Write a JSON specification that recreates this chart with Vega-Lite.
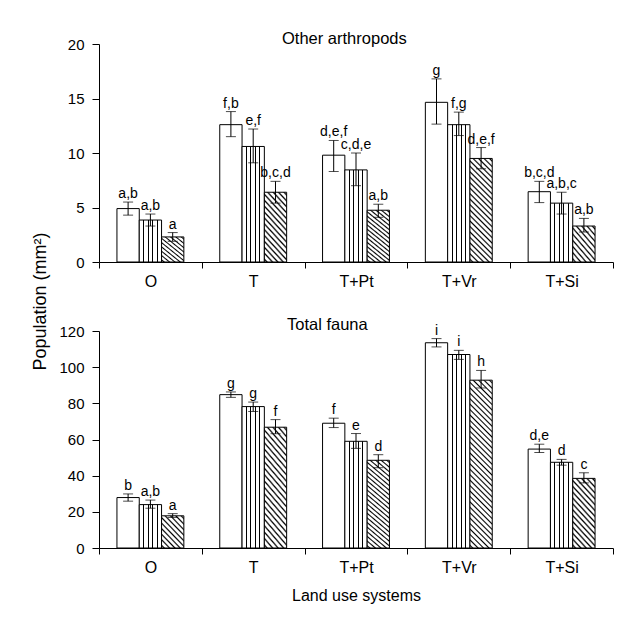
{
"$schema": "https://vega.github.io/schema/vega-lite/v6.json",
"background": "white",
"padding": {"left": 31, "top": 30, "right": 5, "bottom": 5},
"bounds": "flush",
"spacing": 69,
"config": {
 "font": "Liberation Sans",
 "view": {"stroke": null},
 "axis": {"domainColor": "black", "tickColor": "black", "labelColor": "black", "titleColor": "black", "labelFont": "Liberation Sans", "titleFont": "Liberation Sans", "titleFontWeight": "normal", "grid": false, "domainWidth": 1, "tickWidth": 1},
 "axisY": {"labelFontSize": 15, "tickSize": 7, "labelPadding": 8, "labelOverlap": false},
 "title": {"font": "Liberation Sans", "fontWeight": "normal", "color": "black"}
},
"datasets": {
 "arth": [
  {"system": "O", "trt": "A", "value": 4.9, "lo": 4.3, "hi": 5.5, "label": "a,b"},
  {"system": "O", "trt": "B", "value": 3.85, "lo": 3.3, "hi": 4.4, "label": "a,b"},
  {"system": "O", "trt": "C", "value": 2.3, "lo": 1.9, "hi": 2.7, "label": "a"},
  {"system": "T", "trt": "A", "value": 12.6, "lo": 11.5, "hi": 13.8, "label": "f,b"},
  {"system": "T", "trt": "B", "value": 10.6, "lo": 9.1, "hi": 12.2, "label": "e,f"},
  {"system": "T", "trt": "C", "value": 6.4, "lo": 5.4, "hi": 7.4, "label": "b,c,d"},
  {"system": "T+Pt", "trt": "A", "value": 9.8, "lo": 8.3, "hi": 11.15, "label": "d,e,f"},
  {"system": "T+Pt", "trt": "B", "value": 8.45, "lo": 7.0, "hi": 10.0, "label": "c,d,e"},
  {"system": "T+Pt", "trt": "C", "value": 4.75, "lo": 4.1, "hi": 5.3, "label": "a,b"},
  {"system": "T+Vr", "trt": "A", "value": 14.65, "lo": 12.65, "hi": 16.8, "label": "g"},
  {"system": "T+Vr", "trt": "B", "value": 12.6, "lo": 11.6, "hi": 13.75, "label": "f,g"},
  {"system": "T+Vr", "trt": "C", "value": 9.5, "lo": 8.55, "hi": 10.5, "label": "d,e,f"},
  {"system": "T+Si", "trt": "A", "value": 6.45, "lo": 5.45, "hi": 7.4, "label": "b,c,d"},
  {"system": "T+Si", "trt": "B", "value": 5.4, "lo": 4.4, "hi": 6.4, "label": "a,b,c"},
  {"system": "T+Si", "trt": "C", "value": 3.3, "lo": 2.75, "hi": 4.0, "label": "a,b"}
 ],
 "fauna": [
  {"system": "O", "trt": "A", "value": 27.9, "lo": 25.9, "hi": 29.9, "label": "b"},
  {"system": "O", "trt": "B", "value": 24.0, "lo": 22.0, "hi": 26.5, "label": "a,b"},
  {"system": "O", "trt": "C", "value": 17.8, "lo": 16.9, "hi": 19.0, "label": "a"},
  {"system": "T", "trt": "A", "value": 84.8, "lo": 83.3, "hi": 86.3, "label": "g"},
  {"system": "T", "trt": "B", "value": 78.2, "lo": 75.5, "hi": 80.7, "label": "g"},
  {"system": "T", "trt": "C", "value": 66.8, "lo": 63.2, "hi": 71.0, "label": "f"},
  {"system": "T+Pt", "trt": "A", "value": 69.0, "lo": 66.6, "hi": 71.8, "label": "f"},
  {"system": "T+Pt", "trt": "B", "value": 59.0, "lo": 55.1, "hi": 63.3, "label": "e"},
  {"system": "T+Pt", "trt": "C", "value": 48.5, "lo": 44.4, "hi": 51.6, "label": "d"},
  {"system": "T+Vr", "trt": "A", "value": 113.5, "lo": 111.2, "hi": 115.8, "label": "i"},
  {"system": "T+Vr", "trt": "B", "value": 107.0, "lo": 104.3, "hi": 109.3, "label": "i"},
  {"system": "T+Vr", "trt": "C", "value": 92.8, "lo": 88.5, "hi": 98.2, "label": "h"},
  {"system": "T+Si", "trt": "A", "value": 54.7, "lo": 52.8, "hi": 57.4, "label": "d,e"},
  {"system": "T+Si", "trt": "B", "value": 47.4, "lo": 45.8, "hi": 49.0, "label": "d"},
  {"system": "T+Si", "trt": "C", "value": 38.5, "lo": 36.0, "hi": 41.6, "label": "c"}
 ]
},
"vconcat": [
 {
  "width": 514, "height": 218,
  "title": {"text": "Other arthropods", "anchor": "start", "frame": "group", "dx": 183, "offset": -23, "fontSize": 16.5, "baseline": "alphabetic"},
  "data": {"name": "arth"},
  "encoding": {
   "x": {"field": "system", "type": "nominal", "sort": ["O", "T", "T+Pt", "T+Vr", "T+Si"], "scale": {"paddingInner": 0, "paddingOuter": 0}, "axis": {"title": null, "labelAngle": 0, "tickBand": "extent", "labelFontSize": 16, "labelPadding": 5, "tickSize": 6}},
   "xOffset": {"field": "trt", "type": "nominal", "sort": ["A", "B", "C"], "scale": {"paddingInner": 0, "paddingOuter": 0.805}}
  },
  "layer": [
   {"transform": [{"filter": "datum.trt == 'A'"}], "mark": {"type": "bar", "fill": "white", "stroke": "black", "strokeWidth": 1},
    "encoding": {"y": {"field": "value", "type": "quantitative", "scale": {"domain": [0, 20], "nice": false}, "axis": {"title": "Population (mm²)", "titleFontSize": 18, "titleX": -54, "titleY": 257, "titleAngle": -90, "titleBaseline": "alphabetic", "titleAlign": "center", "values": [0, 5, 10, 15, 20]}}}},
   {"transform": [{"filter": "datum.trt == 'B'"}], "mark": {"type": "bar", "stroke": "black", "strokeWidth": 1, "fill": {"gradient": "linear", "x1": 0, "y1": 0, "x2": 1, "y2": 0, "stops": [{"offset": 0, "color": "white"}, {"offset": 0.178, "color": "white"}, {"offset": 0.178, "color": "black"}, {"offset": 0.222, "color": "black"}, {"offset": 0.222, "color": "white"}, {"offset": 0.378, "color": "white"}, {"offset": 0.378, "color": "black"}, {"offset": 0.422, "color": "black"}, {"offset": 0.422, "color": "white"}, {"offset": 0.578, "color": "white"}, {"offset": 0.578, "color": "black"}, {"offset": 0.622, "color": "black"}, {"offset": 0.622, "color": "white"}, {"offset": 0.778, "color": "white"}, {"offset": 0.778, "color": "black"}, {"offset": 0.822, "color": "black"}, {"offset": 0.822, "color": "white"}, {"offset": 1, "color": "white"}]}},
    "encoding": {"y": {"field": "value", "type": "quantitative", "axis": {"values": [0, 5, 10, 15, 20]}}}},
   {"transform": [{"filter": "datum.trt == 'C' && (datum.system == 'O' || datum.system == 'T+Si')"}], "mark": {"type": "bar", "stroke": "black", "strokeWidth": 1, "fill": {"gradient": "linear", "x1": 0, "y1": 1, "x2": 0.815, "y2": -0.133, "stops": [
     {"offset": 0.02, "color": "white"}, {"offset": 0.05, "color": "black"}, {"offset": 0.08, "color": "white"},
     {"offset": 0.12, "color": "white"}, {"offset": 0.15, "color": "black"}, {"offset": 0.18, "color": "white"},
     {"offset": 0.22, "color": "white"}, {"offset": 0.25, "color": "black"}, {"offset": 0.28, "color": "white"},
     {"offset": 0.32, "color": "white"}, {"offset": 0.35, "color": "black"}, {"offset": 0.38, "color": "white"},
     {"offset": 0.42, "color": "white"}, {"offset": 0.45, "color": "black"}, {"offset": 0.48, "color": "white"},
     {"offset": 0.52, "color": "white"}, {"offset": 0.55, "color": "black"}, {"offset": 0.58, "color": "white"},
     {"offset": 0.62, "color": "white"}, {"offset": 0.65, "color": "black"}, {"offset": 0.68, "color": "white"},
     {"offset": 0.72, "color": "white"}, {"offset": 0.75, "color": "black"}, {"offset": 0.78, "color": "white"},
     {"offset": 0.82, "color": "white"}, {"offset": 0.85, "color": "black"}, {"offset": 0.88, "color": "white"},
     {"offset": 0.92, "color": "white"}, {"offset": 0.95, "color": "black"}, {"offset": 0.98, "color": "white"}]}},
    "encoding": {"y": {"field": "value", "type": "quantitative", "axis": {"values": [0, 5, 10, 15, 20]}}}},
   {"transform": [{"filter": "datum.trt == 'C' && (datum.system == 'T' || datum.system == 'T+Pt')"}], "mark": {"type": "bar", "stroke": "black", "strokeWidth": 1, "fill": {"gradient": "linear", "x1": 0, "y1": 1, "x2": 0.419, "y2": -0.203, "stops": [
     {"offset": 0.011, "color": "white"}, {"offset": 0.031, "color": "black"}, {"offset": 0.051, "color": "white"},
     {"offset": 0.074, "color": "white"}, {"offset": 0.094, "color": "black"}, {"offset": 0.114, "color": "white"},
     {"offset": 0.136, "color": "white"}, {"offset": 0.156, "color": "black"}, {"offset": 0.176, "color": "white"},
     {"offset": 0.199, "color": "white"}, {"offset": 0.219, "color": "black"}, {"offset": 0.239, "color": "white"},
     {"offset": 0.261, "color": "white"}, {"offset": 0.281, "color": "black"}, {"offset": 0.301, "color": "white"},
     {"offset": 0.324, "color": "white"}, {"offset": 0.344, "color": "black"}, {"offset": 0.364, "color": "white"},
     {"offset": 0.386, "color": "white"}, {"offset": 0.406, "color": "black"}, {"offset": 0.426, "color": "white"},
     {"offset": 0.449, "color": "white"}, {"offset": 0.469, "color": "black"}, {"offset": 0.489, "color": "white"},
     {"offset": 0.511, "color": "white"}, {"offset": 0.531, "color": "black"}, {"offset": 0.551, "color": "white"},
     {"offset": 0.574, "color": "white"}, {"offset": 0.594, "color": "black"}, {"offset": 0.614, "color": "white"},
     {"offset": 0.636, "color": "white"}, {"offset": 0.656, "color": "black"}, {"offset": 0.676, "color": "white"},
     {"offset": 0.699, "color": "white"}, {"offset": 0.719, "color": "black"}, {"offset": 0.739, "color": "white"},
     {"offset": 0.761, "color": "white"}, {"offset": 0.781, "color": "black"}, {"offset": 0.801, "color": "white"},
     {"offset": 0.824, "color": "white"}, {"offset": 0.844, "color": "black"}, {"offset": 0.864, "color": "white"},
     {"offset": 0.886, "color": "white"}, {"offset": 0.906, "color": "black"}, {"offset": 0.926, "color": "white"},
     {"offset": 0.949, "color": "white"}, {"offset": 0.969, "color": "black"}, {"offset": 0.989, "color": "white"}]}},
    "encoding": {"y": {"field": "value", "type": "quantitative", "axis": {"values": [0, 5, 10, 15, 20]}}}},
   {"transform": [{"filter": "datum.trt == 'C' && datum.system == 'T+Vr'"}], "mark": {"type": "bar", "stroke": "black", "strokeWidth": 1, "fill": {"gradient": "linear", "x1": 0, "y1": 1, "x2": 0.249, "y2": -0.161, "stops": [
     {"offset": 0.0087, "color": "white"}, {"offset": 0.0217, "color": "black"}, {"offset": 0.0347, "color": "white"},
     {"offset": 0.0522, "color": "white"}, {"offset": 0.0652, "color": "black"}, {"offset": 0.0782, "color": "white"},
     {"offset": 0.0957, "color": "white"}, {"offset": 0.1087, "color": "black"}, {"offset": 0.1217, "color": "white"},
     {"offset": 0.1392, "color": "white"}, {"offset": 0.1522, "color": "black"}, {"offset": 0.1652, "color": "white"},
     {"offset": 0.1827, "color": "white"}, {"offset": 0.1957, "color": "black"}, {"offset": 0.2087, "color": "white"},
     {"offset": 0.2261, "color": "white"}, {"offset": 0.2391, "color": "black"}, {"offset": 0.2521, "color": "white"},
     {"offset": 0.2696, "color": "white"}, {"offset": 0.2826, "color": "black"}, {"offset": 0.2956, "color": "white"},
     {"offset": 0.3131, "color": "white"}, {"offset": 0.3261, "color": "black"}, {"offset": 0.3391, "color": "white"},
     {"offset": 0.3566, "color": "white"}, {"offset": 0.3696, "color": "black"}, {"offset": 0.3826, "color": "white"},
     {"offset": 0.4, "color": "white"}, {"offset": 0.413, "color": "black"}, {"offset": 0.426, "color": "white"},
     {"offset": 0.4435, "color": "white"}, {"offset": 0.4565, "color": "black"}, {"offset": 0.4695, "color": "white"},
     {"offset": 0.487, "color": "white"}, {"offset": 0.5, "color": "black"}, {"offset": 0.513, "color": "white"},
     {"offset": 0.5305, "color": "white"}, {"offset": 0.5435, "color": "black"}, {"offset": 0.5565, "color": "white"},
     {"offset": 0.574, "color": "white"}, {"offset": 0.587, "color": "black"}, {"offset": 0.6, "color": "white"},
     {"offset": 0.6174, "color": "white"}, {"offset": 0.6304, "color": "black"}, {"offset": 0.6434, "color": "white"},
     {"offset": 0.6609, "color": "white"}, {"offset": 0.6739, "color": "black"}, {"offset": 0.6869, "color": "white"},
     {"offset": 0.7044, "color": "white"}, {"offset": 0.7174, "color": "black"}, {"offset": 0.7304, "color": "white"},
     {"offset": 0.7479, "color": "white"}, {"offset": 0.7609, "color": "black"}, {"offset": 0.7739, "color": "white"},
     {"offset": 0.7913, "color": "white"}, {"offset": 0.8043, "color": "black"}, {"offset": 0.8173, "color": "white"},
     {"offset": 0.8348, "color": "white"}, {"offset": 0.8478, "color": "black"}, {"offset": 0.8608, "color": "white"},
     {"offset": 0.8783, "color": "white"}, {"offset": 0.8913, "color": "black"}, {"offset": 0.9043, "color": "white"},
     {"offset": 0.9218, "color": "white"}, {"offset": 0.9348, "color": "black"}, {"offset": 0.9478, "color": "white"},
     {"offset": 0.9653, "color": "white"}, {"offset": 0.9783, "color": "black"}, {"offset": 0.9913, "color": "white"}]}},
    "encoding": {"y": {"field": "value", "type": "quantitative", "axis": {"values": [0, 5, 10, 15, 20]}}}},
   {"mark": {"type": "rule", "color": "black", "strokeWidth": 1}, "encoding": {"y": {"field": "lo", "type": "quantitative", "axis": {"values": [0, 5, 10, 15, 20]}}, "y2": {"field": "hi"}}},
   {"mark": {"type": "tick", "color": "black", "thickness": 1, "size": 10}, "encoding": {"y": {"field": "hi", "type": "quantitative", "axis": {"values": [0, 5, 10, 15, 20]}}}},
   {"mark": {"type": "tick", "color": "black", "thickness": 1, "size": 10}, "encoding": {"y": {"field": "lo", "type": "quantitative", "axis": {"values": [0, 5, 10, 15, 20]}}}},
   {"mark": {"type": "text", "baseline": "alphabetic", "dy": -4, "fontSize": 14, "font": "Liberation Sans", "color": "black"}, "encoding": {"y": {"field": "hi", "type": "quantitative", "axis": {"values": [0, 5, 10, 15, 20]}}, "text": {"field": "label"}}}
  ]
 },
 {
  "width": 514, "height": 217,
  "title": {"text": "Total fauna", "anchor": "start", "frame": "group", "dx": 188, "offset": -23, "fontSize": 16.5, "baseline": "alphabetic"},
  "data": {"name": "fauna"},
  "encoding": {
   "x": {"field": "system", "type": "nominal", "sort": ["O", "T", "T+Pt", "T+Vr", "T+Si"], "scale": {"paddingInner": 0, "paddingOuter": 0}, "axis": {"title": "Land use systems", "titleFontSize": 16, "titlePadding": 12, "labelAngle": 0, "tickBand": "extent", "labelFontSize": 16, "labelPadding": 5, "tickSize": 6}},
   "xOffset": {"field": "trt", "type": "nominal", "sort": ["A", "B", "C"], "scale": {"paddingInner": 0, "paddingOuter": 0.805}}
  },
  "layer": [
   {"transform": [{"filter": "datum.trt == 'A'"}], "mark": {"type": "bar", "fill": "white", "stroke": "black", "strokeWidth": 1},
    "encoding": {"y": {"field": "value", "type": "quantitative", "scale": {"domain": [0, 120], "nice": false}, "axis": {"title": null, "values": [0, 20, 40, 60, 80, 100, 120]}}}},
   {"transform": [{"filter": "datum.trt == 'B'"}], "mark": {"type": "bar", "stroke": "black", "strokeWidth": 1, "fill": {"gradient": "linear", "x1": 0, "y1": 0, "x2": 1, "y2": 0, "stops": [{"offset": 0, "color": "white"}, {"offset": 0.178, "color": "white"}, {"offset": 0.178, "color": "black"}, {"offset": 0.222, "color": "black"}, {"offset": 0.222, "color": "white"}, {"offset": 0.378, "color": "white"}, {"offset": 0.378, "color": "black"}, {"offset": 0.422, "color": "black"}, {"offset": 0.422, "color": "white"}, {"offset": 0.578, "color": "white"}, {"offset": 0.578, "color": "black"}, {"offset": 0.622, "color": "black"}, {"offset": 0.622, "color": "white"}, {"offset": 0.778, "color": "white"}, {"offset": 0.778, "color": "black"}, {"offset": 0.822, "color": "black"}, {"offset": 0.822, "color": "white"}, {"offset": 1, "color": "white"}]}},
    "encoding": {"y": {"field": "value", "type": "quantitative", "axis": {"values": [0, 20, 40, 60, 80, 100, 120]}}}},
   {"transform": [{"filter": "datum.trt == 'C' && datum.system == 'O'"}], "mark": {"type": "bar", "stroke": "black", "strokeWidth": 1, "fill": {"gradient": "linear", "x1": 0, "y1": 1, "x2": 0.815, "y2": -0.133, "stops": [
     {"offset": 0.02, "color": "white"}, {"offset": 0.05, "color": "black"}, {"offset": 0.08, "color": "white"},
     {"offset": 0.12, "color": "white"}, {"offset": 0.15, "color": "black"}, {"offset": 0.18, "color": "white"},
     {"offset": 0.22, "color": "white"}, {"offset": 0.25, "color": "black"}, {"offset": 0.28, "color": "white"},
     {"offset": 0.32, "color": "white"}, {"offset": 0.35, "color": "black"}, {"offset": 0.38, "color": "white"},
     {"offset": 0.42, "color": "white"}, {"offset": 0.45, "color": "black"}, {"offset": 0.48, "color": "white"},
     {"offset": 0.52, "color": "white"}, {"offset": 0.55, "color": "black"}, {"offset": 0.58, "color": "white"},
     {"offset": 0.62, "color": "white"}, {"offset": 0.65, "color": "black"}, {"offset": 0.68, "color": "white"},
     {"offset": 0.72, "color": "white"}, {"offset": 0.75, "color": "black"}, {"offset": 0.78, "color": "white"},
     {"offset": 0.82, "color": "white"}, {"offset": 0.85, "color": "black"}, {"offset": 0.88, "color": "white"},
     {"offset": 0.92, "color": "white"}, {"offset": 0.95, "color": "black"}, {"offset": 0.98, "color": "white"}]}},
    "encoding": {"y": {"field": "value", "type": "quantitative", "axis": {"values": [0, 20, 40, 60, 80, 100, 120]}}}},
   {"transform": [{"filter": "datum.trt == 'C' && datum.system == 'T+Si'"}], "mark": {"type": "bar", "stroke": "black", "strokeWidth": 1, "fill": {"gradient": "linear", "x1": 0, "y1": 1, "x2": 0.419, "y2": -0.203, "stops": [
     {"offset": 0.011, "color": "white"}, {"offset": 0.031, "color": "black"}, {"offset": 0.051, "color": "white"},
     {"offset": 0.074, "color": "white"}, {"offset": 0.094, "color": "black"}, {"offset": 0.114, "color": "white"},
     {"offset": 0.136, "color": "white"}, {"offset": 0.156, "color": "black"}, {"offset": 0.176, "color": "white"},
     {"offset": 0.199, "color": "white"}, {"offset": 0.219, "color": "black"}, {"offset": 0.239, "color": "white"},
     {"offset": 0.261, "color": "white"}, {"offset": 0.281, "color": "black"}, {"offset": 0.301, "color": "white"},
     {"offset": 0.324, "color": "white"}, {"offset": 0.344, "color": "black"}, {"offset": 0.364, "color": "white"},
     {"offset": 0.386, "color": "white"}, {"offset": 0.406, "color": "black"}, {"offset": 0.426, "color": "white"},
     {"offset": 0.449, "color": "white"}, {"offset": 0.469, "color": "black"}, {"offset": 0.489, "color": "white"},
     {"offset": 0.511, "color": "white"}, {"offset": 0.531, "color": "black"}, {"offset": 0.551, "color": "white"},
     {"offset": 0.574, "color": "white"}, {"offset": 0.594, "color": "black"}, {"offset": 0.614, "color": "white"},
     {"offset": 0.636, "color": "white"}, {"offset": 0.656, "color": "black"}, {"offset": 0.676, "color": "white"},
     {"offset": 0.699, "color": "white"}, {"offset": 0.719, "color": "black"}, {"offset": 0.739, "color": "white"},
     {"offset": 0.761, "color": "white"}, {"offset": 0.781, "color": "black"}, {"offset": 0.801, "color": "white"},
     {"offset": 0.824, "color": "white"}, {"offset": 0.844, "color": "black"}, {"offset": 0.864, "color": "white"},
     {"offset": 0.886, "color": "white"}, {"offset": 0.906, "color": "black"}, {"offset": 0.926, "color": "white"},
     {"offset": 0.949, "color": "white"}, {"offset": 0.969, "color": "black"}, {"offset": 0.989, "color": "white"}]}},
    "encoding": {"y": {"field": "value", "type": "quantitative", "axis": {"values": [0, 20, 40, 60, 80, 100, 120]}}}},
   {"transform": [{"filter": "datum.trt == 'C' && (datum.system == 'T' || datum.system == 'T+Pt')"}], "mark": {"type": "bar", "stroke": "black", "strokeWidth": 1, "fill": {"gradient": "linear", "x1": 0, "y1": 1, "x2": 0.249, "y2": -0.161, "stops": [
     {"offset": 0.0087, "color": "white"}, {"offset": 0.0217, "color": "black"}, {"offset": 0.0347, "color": "white"},
     {"offset": 0.0522, "color": "white"}, {"offset": 0.0652, "color": "black"}, {"offset": 0.0782, "color": "white"},
     {"offset": 0.0957, "color": "white"}, {"offset": 0.1087, "color": "black"}, {"offset": 0.1217, "color": "white"},
     {"offset": 0.1392, "color": "white"}, {"offset": 0.1522, "color": "black"}, {"offset": 0.1652, "color": "white"},
     {"offset": 0.1827, "color": "white"}, {"offset": 0.1957, "color": "black"}, {"offset": 0.2087, "color": "white"},
     {"offset": 0.2261, "color": "white"}, {"offset": 0.2391, "color": "black"}, {"offset": 0.2521, "color": "white"},
     {"offset": 0.2696, "color": "white"}, {"offset": 0.2826, "color": "black"}, {"offset": 0.2956, "color": "white"},
     {"offset": 0.3131, "color": "white"}, {"offset": 0.3261, "color": "black"}, {"offset": 0.3391, "color": "white"},
     {"offset": 0.3566, "color": "white"}, {"offset": 0.3696, "color": "black"}, {"offset": 0.3826, "color": "white"},
     {"offset": 0.4, "color": "white"}, {"offset": 0.413, "color": "black"}, {"offset": 0.426, "color": "white"},
     {"offset": 0.4435, "color": "white"}, {"offset": 0.4565, "color": "black"}, {"offset": 0.4695, "color": "white"},
     {"offset": 0.487, "color": "white"}, {"offset": 0.5, "color": "black"}, {"offset": 0.513, "color": "white"},
     {"offset": 0.5305, "color": "white"}, {"offset": 0.5435, "color": "black"}, {"offset": 0.5565, "color": "white"},
     {"offset": 0.574, "color": "white"}, {"offset": 0.587, "color": "black"}, {"offset": 0.6, "color": "white"},
     {"offset": 0.6174, "color": "white"}, {"offset": 0.6304, "color": "black"}, {"offset": 0.6434, "color": "white"},
     {"offset": 0.6609, "color": "white"}, {"offset": 0.6739, "color": "black"}, {"offset": 0.6869, "color": "white"},
     {"offset": 0.7044, "color": "white"}, {"offset": 0.7174, "color": "black"}, {"offset": 0.7304, "color": "white"},
     {"offset": 0.7479, "color": "white"}, {"offset": 0.7609, "color": "black"}, {"offset": 0.7739, "color": "white"},
     {"offset": 0.7913, "color": "white"}, {"offset": 0.8043, "color": "black"}, {"offset": 0.8173, "color": "white"},
     {"offset": 0.8348, "color": "white"}, {"offset": 0.8478, "color": "black"}, {"offset": 0.8608, "color": "white"},
     {"offset": 0.8783, "color": "white"}, {"offset": 0.8913, "color": "black"}, {"offset": 0.9043, "color": "white"},
     {"offset": 0.9218, "color": "white"}, {"offset": 0.9348, "color": "black"}, {"offset": 0.9478, "color": "white"},
     {"offset": 0.9653, "color": "white"}, {"offset": 0.9783, "color": "black"}, {"offset": 0.9913, "color": "white"}]}},
    "encoding": {"y": {"field": "value", "type": "quantitative", "axis": {"values": [0, 20, 40, 60, 80, 100, 120]}}}},
   {"transform": [{"filter": "datum.trt == 'C' && datum.system == 'T+Vr'"}], "mark": {"type": "bar", "stroke": "black", "strokeWidth": 1, "fill": {"gradient": "linear", "x1": 0, "y1": 1, "x2": 0.1477, "y2": -0.1128, "stops": [
     {"offset": 0.0063, "color": "white"}, {"offset": 0.0143, "color": "black"}, {"offset": 0.0223, "color": "white"},
     {"offset": 0.0349, "color": "white"}, {"offset": 0.0429, "color": "black"}, {"offset": 0.0509, "color": "white"},
     {"offset": 0.0634, "color": "white"}, {"offset": 0.0714, "color": "black"}, {"offset": 0.0794, "color": "white"},
     {"offset": 0.092, "color": "white"}, {"offset": 0.1, "color": "black"}, {"offset": 0.108, "color": "white"},
     {"offset": 0.1206, "color": "white"}, {"offset": 0.1286, "color": "black"}, {"offset": 0.1366, "color": "white"},
     {"offset": 0.1491, "color": "white"}, {"offset": 0.1571, "color": "black"}, {"offset": 0.1651, "color": "white"},
     {"offset": 0.1777, "color": "white"}, {"offset": 0.1857, "color": "black"}, {"offset": 0.1937, "color": "white"},
     {"offset": 0.2063, "color": "white"}, {"offset": 0.2143, "color": "black"}, {"offset": 0.2223, "color": "white"},
     {"offset": 0.2349, "color": "white"}, {"offset": 0.2429, "color": "black"}, {"offset": 0.2509, "color": "white"},
     {"offset": 0.2634, "color": "white"}, {"offset": 0.2714, "color": "black"}, {"offset": 0.2794, "color": "white"},
     {"offset": 0.292, "color": "white"}, {"offset": 0.3, "color": "black"}, {"offset": 0.308, "color": "white"},
     {"offset": 0.3206, "color": "white"}, {"offset": 0.3286, "color": "black"}, {"offset": 0.3366, "color": "white"},
     {"offset": 0.3491, "color": "white"}, {"offset": 0.3571, "color": "black"}, {"offset": 0.3651, "color": "white"},
     {"offset": 0.3777, "color": "white"}, {"offset": 0.3857, "color": "black"}, {"offset": 0.3937, "color": "white"},
     {"offset": 0.4063, "color": "white"}, {"offset": 0.4143, "color": "black"}, {"offset": 0.4223, "color": "white"},
     {"offset": 0.4349, "color": "white"}, {"offset": 0.4429, "color": "black"}, {"offset": 0.4509, "color": "white"},
     {"offset": 0.4634, "color": "white"}, {"offset": 0.4714, "color": "black"}, {"offset": 0.4794, "color": "white"},
     {"offset": 0.492, "color": "white"}, {"offset": 0.5, "color": "black"}, {"offset": 0.508, "color": "white"},
     {"offset": 0.5206, "color": "white"}, {"offset": 0.5286, "color": "black"}, {"offset": 0.5366, "color": "white"},
     {"offset": 0.5491, "color": "white"}, {"offset": 0.5571, "color": "black"}, {"offset": 0.5651, "color": "white"},
     {"offset": 0.5777, "color": "white"}, {"offset": 0.5857, "color": "black"}, {"offset": 0.5937, "color": "white"},
     {"offset": 0.6063, "color": "white"}, {"offset": 0.6143, "color": "black"}, {"offset": 0.6223, "color": "white"},
     {"offset": 0.6349, "color": "white"}, {"offset": 0.6429, "color": "black"}, {"offset": 0.6509, "color": "white"},
     {"offset": 0.6634, "color": "white"}, {"offset": 0.6714, "color": "black"}, {"offset": 0.6794, "color": "white"},
     {"offset": 0.692, "color": "white"}, {"offset": 0.7, "color": "black"}, {"offset": 0.708, "color": "white"},
     {"offset": 0.7206, "color": "white"}, {"offset": 0.7286, "color": "black"}, {"offset": 0.7366, "color": "white"},
     {"offset": 0.7491, "color": "white"}, {"offset": 0.7571, "color": "black"}, {"offset": 0.7651, "color": "white"},
     {"offset": 0.7777, "color": "white"}, {"offset": 0.7857, "color": "black"}, {"offset": 0.7937, "color": "white"},
     {"offset": 0.8063, "color": "white"}, {"offset": 0.8143, "color": "black"}, {"offset": 0.8223, "color": "white"},
     {"offset": 0.8349, "color": "white"}, {"offset": 0.8429, "color": "black"}, {"offset": 0.8509, "color": "white"},
     {"offset": 0.8634, "color": "white"}, {"offset": 0.8714, "color": "black"}, {"offset": 0.8794, "color": "white"},
     {"offset": 0.892, "color": "white"}, {"offset": 0.9, "color": "black"}, {"offset": 0.908, "color": "white"},
     {"offset": 0.9206, "color": "white"}, {"offset": 0.9286, "color": "black"}, {"offset": 0.9366, "color": "white"},
     {"offset": 0.9491, "color": "white"}, {"offset": 0.9571, "color": "black"}, {"offset": 0.9651, "color": "white"},
     {"offset": 0.9777, "color": "white"}, {"offset": 0.9857, "color": "black"}, {"offset": 0.9937, "color": "white"}]}},
    "encoding": {"y": {"field": "value", "type": "quantitative", "axis": {"values": [0, 20, 40, 60, 80, 100, 120]}}}},
   {"mark": {"type": "rule", "color": "black", "strokeWidth": 1}, "encoding": {"y": {"field": "lo", "type": "quantitative", "axis": {"values": [0, 20, 40, 60, 80, 100, 120]}}, "y2": {"field": "hi"}}},
   {"mark": {"type": "tick", "color": "black", "thickness": 1, "size": 10}, "encoding": {"y": {"field": "hi", "type": "quantitative", "axis": {"values": [0, 20, 40, 60, 80, 100, 120]}}}},
   {"mark": {"type": "tick", "color": "black", "thickness": 1, "size": 10}, "encoding": {"y": {"field": "lo", "type": "quantitative", "axis": {"values": [0, 20, 40, 60, 80, 100, 120]}}}},
   {"mark": {"type": "text", "baseline": "alphabetic", "dy": -4, "fontSize": 14, "font": "Liberation Sans", "color": "black"}, "encoding": {"y": {"field": "hi", "type": "quantitative", "axis": {"values": [0, 20, 40, 60, 80, 100, 120]}}, "text": {"field": "label"}}}
  ]
 }
]
}
